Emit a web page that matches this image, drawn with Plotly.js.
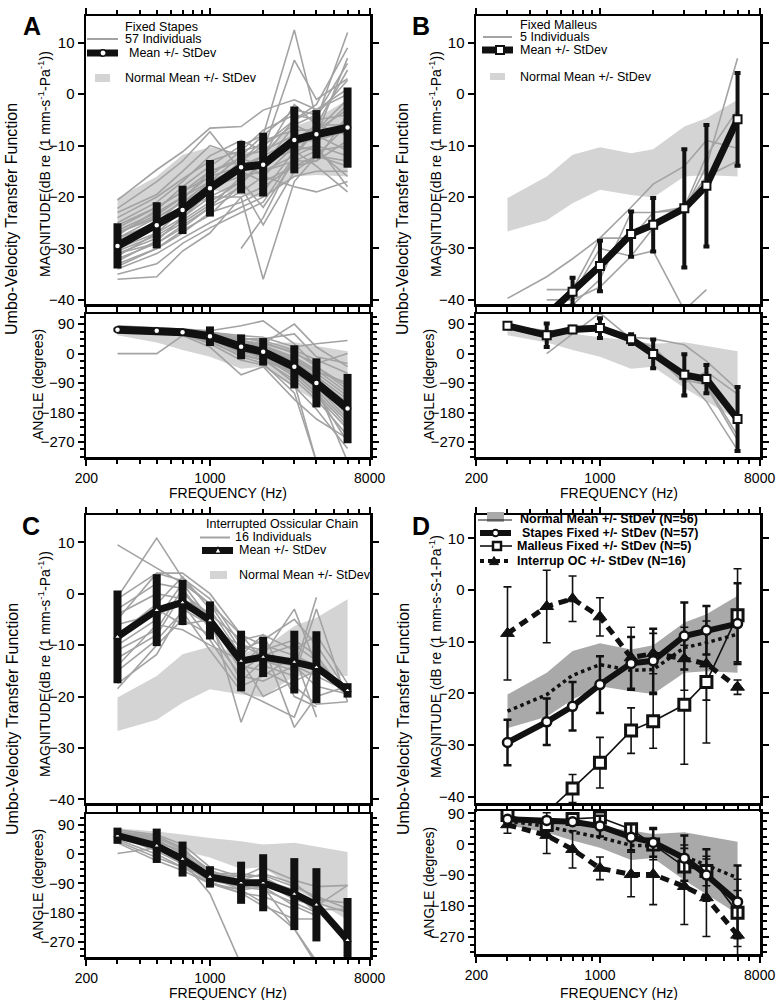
<!DOCTYPE html>
<html><head><meta charset="utf-8">
<script src="https://cdn.plot.ly/plotly-3.0.1.min.js"></script>
<style>html,body{margin:0;padding:0;background:#fff}#chart{width:781px;height:1000px}</style>
</head><body><div id="chart"></div>
<script>
// ---------- DATA ----------
const freqs = [300, 500, 700, 1000, 1500, 2000, 3000, 4000, 6000];
const xTickVals = [200, 1000, 8000];
const xTickLabels = ['200', '1000', '8000'];
const xMinorVals = [300, 400, 500, 600, 700, 800, 900, 2000, 3000, 4000, 5000, 6000, 7000];
const magTickVals = [-40, -30, -20, -10, 0, 10];
const angTickVals = [-270, -180, -90, 0, 90];

// Normal ears
const normMagMean = [-23.45, -20.25, -16.5, -14.45, -15.55, -15.4, -11.15, -10.2, -8.55];
const normMagSd   = [3.25, 4.25, 4.7, 4.15, 4.05, 4.7, 4.85, 5.5, 7.45];
const normAngMean = [68, 52, 36, 20, -3, -5, -35, -62, -98];
const normAngSd   = [12, 18, 25, 30, 43, 35, 70, 85, 105];

// Fixed stapes (N=57)
const stapesMagMean = [-29.5, -25.5, -22.5, -18.3, -14.2, -13.7, -8.9, -7.8, -6.5];
const stapesMagSd   = [4.4, 4.5, 4.7, 5.5, 5.1, 6.2, 6.5, 4.7, 7.8];
const stapesAngMean = [73, 69.5, 65.5, 53, 20.7, 5.4, -40.5, -89.5, -168];
const stapesAngSd   = [6, 6, 8, 30, 38, 42, 66, 75, 106];

// Fixed malleus (N=5)
const malleusMagMean = [null, -43, -38.4, -33.4, -27.2, -25.4, -22.2, -17.8, -4.9];
const malleusMagSd   = [null, null, 2.7, 4.9, 4.4, 5.2, 11.5, 11.8, 9];
const malleusAngMean = [85, 56, 74, 78, 44, -1, -65, -78, -200];
const malleusAngSd   = [5, 36, 8, 30, 15, 44, 63, 43, 98];

// Interrupted ossicular chain (N=16)
const interrMagMean = [-8.4, -3.2, -1.7, -5.2, -13.1, -12.3, -13.3, -14.3, -18.8];
const interrMagSd   = [9, 7, 4.4, 3.7, 5.9, 3.9, 6.1, 7, 1.4];
const interrAngMean = [57, 26, -15, -70, -88, -88, -123, -156, -265];
const interrAngSd   = [25, 53, 54, 33, 65, 88, 111, 113, 130];

// Individual ears
const stapesIndivMag = [
 [-20.6,-14.7,-11.2,-6.6,-6.3,-3.1,-1.1,-3,1],
 [-22.2,-17,-13,-7.3,-15,-12,-5,-2,9],
 [-23,-19.5,-15,-10,-12,-8,12.5,-5,-4],
 [-25,-21,-17,-12,-9,-11,6.6,-1,3],
 [-26,-22,-19,-15,-13,-16,-10,-8,-2],
 [-27,-23.5,-20,-16,-11,-7,-4,-5,12],
 [-28,-24,-21,-17,-14,-13,-9,-9,-7],
 [-28.5,-25,-22,-18,-16,-15,-12,-10,-12],
 [-29,-26,-23,-19,-15,-14,-6,-8,7],
 [-30,-27,-24,-20,-20,-36,-17,-12,-14],
 [-30.5,-27.5,-24.5,-21,-17,-22,-13,-11,-10],
 [-31,-28,-25,-21.5,-18,-25.4,-15,-12,-6],
 [-32,-29,-26,-22,-19,-16,-18,-19,-17],
 [-33,-30,-27,-23,-21,-19,-11,-14,-19],
 [-34,-31,-28,-25,-22,-20,-16,-15,-15],
 [-36,-35.5,-30.5,-27,-20,-18,-14,-13,-9],
 [-35,-33,-29,-26,-23,-21,-12,-6,4.7],
 [-32.5,-28.5,-24,-19,-13,-9,-7,-7,-3],
 [-27.5,-22.5,-18,-14,-10,-8,-3,-4,2.7],
 [-31.5,-27,-22.5,-17,-12,-11,-8,-8,-11],
 [-29.5,-25,-20.5,-15,-12.5,-14,-10,-11,-16],
 [null,null,null,null,-30,-24,-12,-7,-1],
 [-24,-20,-16.5,-13,-11,-10,-5,-3,0],
 [-26.5,-23,-20,-17,-15,-17,-14,-12,-13],
 [-33.5,-30,-26.5,-23.5,-17.5,-13,-9,-9,-5],
 [-30,-26,-22,-18,-14,-12,-2,-6,-8],
 [-28,-25,-22.5,-20,-17,-13,-11,-10,-18],
 [-31,-29,-25.5,-22,-16,-15,-13,-13,-4],
 [-27,-24,-21,-18,-13,-10,-6,-4,6],
 [-25.5,-22,-19,-16,-14,-12,-9,-6,-6]
];
const stapesIndivAng = [
 [0,0,55,40,20,10,-30,-80,-150],
 [85,80,75,70,85,100,30,-40,-100],
 [80,78,72,60,40,30,90,20,-40],
 [75,72,68,50,10,-10,-60,-100,-200],
 [72,70,65,55,30,20,-20,-60,-130],
 [70,68,62,45,0,-20,-80,-140,-250],
 [68,65,60,40,-10,-30,-120,-330,null],
 [78,75,70,65,55,50,20,30,40],
 [74,72,66,50,25,10,-40,-100,-180],
 [76,74,70,60,35,25,-10,-50,-120],
 [70,66,60,30,-20,-35,-100,-170,-290],
 [72,70,65,50,15,0,-50,-110,-210],
 [80,76,70,58,30,15,-30,-75,-160],
 [66,62,55,20,-65,-40,-140,-200,-260],
 [73,70,66,55,20,5,-45,-90,-170],
 [75,73,68,60,45,40,10,-20,-60],
 [70,67,62,50,10,-15,-90,-330,null],
 [82,78,73,65,50,35,0,-30,0],
 [71,68,64,45,5,-10,-70,-130,-230],
 [74,71,67,52,25,10,-35,-85,-190],
 [77,73,68,60,35,20,-25,-70,-140],
 [69,66,60,35,-5,-20,-60,-120,-220],
 [76,74,70,62,40,30,5,-40,-110],
 [73,70,65,50,20,0,-60,-120,-270],
 [79,75,71,63,45,45,60,-10,-30],
 [72,69,64,48,18,5,-50,-95,-175],
 [75,72,67,56,28,15,-30,-80,-150],
 [71,69,63,47,12,-5,-40,-100,-330],
 [78,74,69,58,38,25,-15,-55,-90],
 [74,71,66,54,22,8,-42,-92,-175]
];
const malleusIndivMag = [
 [-39.7,-35.5,-32,-28,-22,-17.5,-14,-9,-10.5],
 [null,-38,-38,-28,-28,-23,-22,-12,-3],
 [null,-40,-40,-37.5,-31.5,-30.5,-42,-38,null],
 [null,null,-41,-36,-23,-23,-22.5,-14,7],
 [null,null,-39,-30,-31.5,-26,-22,-16,-13]
];
const malleusIndivAng = [
 [85,70,72,75,50,45,27,-23,-110],
 [null,0,60,124,45,10,-60,-100,-264],
 [85,68,75,78,45,20,-70,-146,-295],
 [83,60,78,82,40,0,-90,-55,-124],
 [80,55,72,72,35,-10,-80,-95,-250]
];
const interrIndivMag = [
 [9.5,5,2,-2,-8,-10,-12,-14,null],
 [-0.7,10.8,3,-1,-10,-12,-3,-14,-20],
 [-5,4,4,0,-8,-13,-15,-0.7,null],
 [-8,-2,3.3,-3,-12,-8,-20,-22,null],
 [-10,-5,2,-5,-15,-12,-10,-13,-19],
 [-12.5,-8,0,-4,-25,-14,-16,-3,-21],
 [-17.5,-11.8,-3,-6,-14,-10,-26,-20,-18],
 [-18.5,-10,-5,-8,-16,-17,-14,-18,-19.5],
 [-3,2,1,-7,-10,-11,-9,-12,-20],
 [-6,-4,-2,-9,-18,-16,-12,-24,null],
 [-14,-6,-7,-10,-13,-20,-17,-15,-18.5],
 [-1,4,2.5,-2,-11,-9,-5,-10,-19],
 [-9,-3,-6,-5,-14,-15,-18,-21.5,-21],
 [-4,0,-1,-4,-9,-8,-11,-8,-17.5],
 [-11,-7,1,-6,-17,-13,-14,-16,-19],
 [-15,-9,-3.5,-11,-19,-21,-24,-13,null]
];
const interrIndivAng = [
 [65,40,10,-50,-90,-85,-140,-160,-96],
 [40,-10,-40,-70,-110,-150,-230,-330,null],
 [70,55,20,-60,-70,-65,-100,-130,-168],
 [2,20,-20,-122,-340,null,null,null,null],
 [60,40,5,-60,-60,-70,-120,-180,null],
 [55,10,-30,-80,-100,-90,-130,-170,-170],
 [45,0,-40,-90,-110,-100,-230,-340,null],
 [75,60,30,-40,-70,-40,-80,-100,-96],
 [65,30,-10,-70,-100,-110,-150,-180,null],
 [50,20,-30,-85,-120,-160,-200,-200,null],
 [70,50,15,-50,-80,-60,-90,-140,-150],
 [60,25,-20,-75,-95,-100,-160,-190,null],
 [35,-20,-50,-90,-120,-130,-170,null,null],
 [68,45,0,-65,-85,-80,-110,-150,-180]
];

// ---------- DRAWING ----------
const F = '"Liberation Sans", Arial, Helvetica, sans-serif';
const W = 781, H = 1000;
const px = x => x / W, py = y => 1 - y / H;
const BLK = '#111111', GRAYLINE = '#a3a3a3', BAND = '#d4d4d4', BAND_D = '#a9a9a9';
const traces = [];

function band(mean, sd, xa, ya, color) {
  const up = mean.map((m, i) => m + sd[i]);
  const lo = mean.map((m, i) => m - sd[i]);
  traces.push({x: freqs.concat(freqs.slice().reverse()), y: up.concat(lo.slice().reverse()),
    xaxis: xa, yaxis: ya, type: 'scatter', mode: 'lines', fill: 'toself', fillcolor: color,
    line: {width: 0, color: color}, hoverinfo: 'skip', showlegend: false});
}
function indiv(lines, xa, ya) {
  lines.forEach(l => traces.push({x: freqs, y: l, xaxis: xa, yaxis: ya, type: 'scatter', mode: 'lines',
    line: {color: GRAYLINE, width: 1.6}, hoverinfo: 'skip', showlegend: false}));
}
function meanTrace(mean, sd, xa, ya, o) {
  traces.push({x: freqs, y: mean, xaxis: xa, yaxis: ya, type: 'scatter', mode: 'lines+markers',
    line: {color: BLK, width: o.lw, dash: o.dash || 'solid'},
    marker: {symbol: o.sym, size: o.ms, color: o.mc || '#fff', line: {color: BLK, width: o.mlw}},
    error_y: {type: 'data', array: sd, visible: true, color: BLK, thickness: o.et, width: o.ew},
    hoverinfo: 'skip', showlegend: false});
}
function lineOnly(vals, xa, ya, o) {
  traces.push({x: freqs, y: vals, xaxis: xa, yaxis: ya, type: 'scatter', mode: 'lines',
    line: {color: BLK, width: o.lw, dash: o.dash}, hoverinfo: 'skip', showlegend: false});
}

// Panel A
band(normMagMean, normMagSd, 'x', 'y', BAND);
indiv(stapesIndivMag, 'x', 'y');
meanTrace(stapesMagMean, stapesMagSd, 'x', 'y', {lw: 8, sym: 'circle', ms: 6, mlw: 1.5, et: 8, ew: 0});
band(normAngMean, normAngSd, 'x2', 'y2', BAND);
indiv(stapesIndivAng, 'x2', 'y2');
meanTrace(stapesAngMean, stapesAngSd, 'x2', 'y2', {lw: 8, sym: 'circle', ms: 6, mlw: 1.5, et: 8, ew: 0});
// Panel B
band(normMagMean, normMagSd, 'x3', 'y3', BAND);
indiv(malleusIndivMag, 'x3', 'y3');
meanTrace(malleusMagMean, malleusMagSd, 'x3', 'y3', {lw: 7, sym: 'square', ms: 8, mlw: 2, et: 4, ew: 3});
band(normAngMean, normAngSd, 'x4', 'y4', BAND);
indiv(malleusIndivAng, 'x4', 'y4');
meanTrace(malleusAngMean, malleusAngSd, 'x4', 'y4', {lw: 7, sym: 'square', ms: 8, mlw: 2, et: 4, ew: 3});
// Panel C
band(normMagMean, normMagSd, 'x5', 'y5', BAND);
indiv(interrIndivMag, 'x5', 'y5');
meanTrace(interrMagMean, interrMagSd, 'x5', 'y5', {lw: 7, sym: 'triangle-up', ms: 6, mlw: 1.5, et: 8, ew: 0});
band(normAngMean, normAngSd, 'x6', 'y6', BAND);
indiv(interrIndivAng, 'x6', 'y6');
meanTrace(interrAngMean, interrAngSd, 'x6', 'y6', {lw: 7, sym: 'triangle-up', ms: 6, mlw: 1.5, et: 8, ew: 0});
// Panel D
[['x7', 'y7', normMagMean, normMagSd, stapesMagMean, stapesMagSd, malleusMagMean, malleusMagSd, interrMagMean, interrMagSd],
 ['x8', 'y8', normAngMean, normAngSd, stapesAngMean, stapesAngSd, malleusAngMean, malleusAngSd, interrAngMean, interrAngSd]]
.forEach(([xa, ya, nm, ns, sm, ss, mm, ms, im, is]) => {
  band(nm, ns, xa, ya, BAND_D);
  lineOnly(nm, xa, ya, {lw: 3.5, dash: 'dot'});
  meanTrace(im, is, xa, ya, {lw: 5, dash: '9px,6px', sym: 'triangle-up', ms: 12, mc: BLK, mlw: 1, et: 1.6, ew: 4});
  meanTrace(mm, ms, xa, ya, {lw: 1.6, sym: 'square', ms: 11, mlw: 3, et: 1.6, ew: 4});
  meanTrace(sm, ss, xa, ya, {lw: 6, sym: 'circle', ms: 9, mlw: 2.5, et: 2.5, ew: 4});
});

// ---------- AXES ----------
const xDomL = [px(86), px(370)], xDomR = [px(476), px(760)];
function xAxis(domain, anchor, showLabels) {
  return {type: 'log', range: [Math.log10(200) - 0.002, Math.log10(8000) + 0.002], domain, anchor,
    tickmode: 'array', tickvals: xTickVals, ticktext: xTickLabels, showticklabels: showLabels,
    ticks: 'outside', ticklen: 6, tickwidth: 2, tickcolor: '#000', ticklabelstandoff: 1,
    minor: {tickmode: 'array', tickvals: xMinorVals, ticks: 'outside', ticklen: 4, tickwidth: 2, tickcolor: '#000', showgrid: false},
    showline: true, linewidth: 2.5, linecolor: '#000', mirror: 'ticks', showgrid: false, zeroline: false,
    tickfont: {family: F, size: 14, color: '#000'}, fixedrange: true};
}
function yMag(domain, anchor, range) {
  return {domain, anchor, range, tickmode: 'array', tickvals: magTickVals,
    ticks: 'outside', ticklen: 6, tickwidth: 2, tickcolor: '#000',
    showline: true, linewidth: 2.5, linecolor: '#000', mirror: 'ticks', showgrid: false, zeroline: false,
    tickfont: {family: F, size: 15, color: '#000'}, fixedrange: true};
}
function yAng(domain, anchor, range) {
  return {domain, anchor, range, tickmode: 'array', tickvals: angTickVals,
    ticks: 'outside', ticklen: 6, tickwidth: 2, tickcolor: '#000',
    minor: {dtick: 22.5, tick0: 0, ticks: 'outside', ticklen: 4, tickwidth: 2, tickcolor: '#000', showgrid: false},
    showline: true, linewidth: 2.5, linecolor: '#000', mirror: 'ticks', showgrid: false, zeroline: false,
    tickfont: {family: F, size: 15, color: '#000'}, fixedrange: true};
}
const dMagTop = [py(304), py(16)], dAngTop = [py(457), py(314)];
const dMagBot = [py(803), py(515)], dAngBotC = [py(957), py(814)], dAngBotD = [py(954), py(811)];

// ---------- ANNOTATIONS / LEGENDS ----------
const ann = [];
function T(text, x, y, o = {}) {
  ann.push({text, x: px(x), y: py(y), xref: 'paper', yref: 'paper', showarrow: false,
    xanchor: o.xa || 'left', yanchor: 'middle', textangle: o.ang || 0,
    font: {family: F, size: o.size || 12.5, color: '#000'}});
}
const shapes = [];
function L(x0, x1, y, w, color, dash) {
  shapes.push({type: 'line', xref: 'paper', yref: 'paper', x0: px(x0), x1: px(x1), y0: py(y), y1: py(y),
    line: {color: color || BLK, width: w, dash: dash || 'solid'}});
}
function R(x0, x1, y0, y1, fill, lw) {
  shapes.push({type: 'rect', xref: 'paper', yref: 'paper', x0: px(x0), x1: px(x1), y0: py(y1), y1: py(y0),
    fillcolor: fill, line: {color: lw ? BLK : fill, width: lw || 0}});
}
function C(x, y, r, lw) {
  shapes.push({type: 'circle', xref: 'paper', yref: 'paper', x0: px(x - r), x1: px(x + r), y0: py(y + r), y1: py(y - r),
    fillcolor: '#fff', line: {color: BLK, width: lw}});
}
function Tri(x, y, s, fill, lw) {
  const p = `M${px(x - s)},${py(y + s * 0.8)} L${px(x + s)},${py(y + s * 0.8)} L${px(x)},${py(y - s)} Z`;
  shapes.push({type: 'path', xref: 'paper', yref: 'paper', path: p, fillcolor: fill, line: {color: BLK, width: lw}});
}

// Panel letters
T('<b>A</b>', 32, 26, {xa: 'center', size: 25});
T('<b>B</b>', 421, 26, {xa: 'center', size: 25});
T('<b>C</b>', 31, 526, {xa: 'center', size: 25});
T('<b>D</b>', 421, 526, {xa: 'center', size: 25});

// Axis titles
[[0, 0], [391, 0], [0, 500], [391, 500]].forEach(([dx, dy], k) => {
  T('Umbo-Velocity Transfer Function', 12 + dx, 219 + dy, {xa: 'center', ang: -90, size: 16});
  const magTxt = k === 3 ? 'MAGNITUDE (dB re (1 mm-s-S-1-Pa<sup>-1</sup>)' : 'MAGNITUDE(dB re (1 mm-s<sup>-1</sup>-Pa<sup>-1</sup>))';
  T(magTxt, 44 + dx, (k === 3 ? 657 : 164 + dy), {xa: 'center', ang: -90, size: 14});
  T('ANGLE (degrees)', 38 + dx, (k === 3 ? 883 : 385 + dy), {xa: 'center', ang: -90, size: 14});
  T('FREQUENCY (Hz)', 228 + dx, 493 + dy, {xa: 'center', size: 14});
});

// Legend A
T('Fixed Stapes', 123, 27);
L(87, 118, 39, 2, GRAYLINE); T('57 Individuals', 123, 39);
L(87, 118, 53, 7); C(103, 53, 3.2, 1.5); T('Mean +/- StDev', 127, 53);
R(95, 110, 74, 82, BAND); T('Normal Mean +/- StDev', 123, 78);
// Legend B
T('Fixed Malleus', 518, 25);
L(483, 512, 37, 2, GRAYLINE); T('5 Individuals', 518, 37);
L(482, 513, 50, 7); R(496, 504, 46, 54, '#fff', 2); T('Mean +/- StDev', 518, 50);
R(490, 505, 73, 80, BAND); T('Normal Mean +/- StDev', 518, 77);
// Legend C
T('Interrupted Ossicular Chain', 204, 524);
L(200, 230, 537.5, 2, GRAYLINE); T('16 Individuals', 233, 537);
L(202, 233, 550.5, 7); Tri(218, 550.5, 3.2, '#fff', 1.2); T('Mean +/- StDev', 237, 550);
R(210, 227, 571, 579, BAND); T('Normal Mean +/- StDev', 237, 575);
// Legend D
R(487, 504, 512, 522, BAND_D); L(478, 512, 520, 1);
T('<b>Normal Mean +/- StDev (N=56)</b>', 518, 519, {size: 12.5});
L(480, 511, 533, 6); C(495.5, 533, 3.3, 2);
T('<b>Stapes Fixed +/- StDev (N=57)</b>', 520, 533, {size: 12.5});
L(480, 512, 546, 1.6); R(493, 501, 542, 550, '#fff', 2.5);
T('<b>Malleus Fixed +/- StDev (N=5)</b>', 515, 546, {size: 12.5});
L(480, 510, 561, 4, BLK, 'dot'); Tri(494, 561, 4.5, BLK, 1);
T('<b>Interrup OC +/- StDev (N=16)</b>', 515, 561, {size: 12.5});

const layout = {
  width: W, height: H, margin: {l: 0, r: 0, t: 0, b: 0},
  paper_bgcolor: '#fff', plot_bgcolor: '#fff', showlegend: false,
  font: {family: F, color: '#000'},
  xaxis: xAxis(xDomL, 'y', false), yaxis: yMag(dMagTop, 'x', [-40.8, 15.2]),
  xaxis2: xAxis(xDomL, 'y2', true), yaxis2: yAng(dAngTop, 'x2', [-316, 121]),
  xaxis3: xAxis(xDomR, 'y3', false), yaxis3: yMag(dMagTop, 'x3', [-40.8, 15.2]),
  xaxis4: xAxis(xDomR, 'y4', true), yaxis4: yAng(dAngTop, 'x4', [-316, 121]),
  xaxis5: xAxis(xDomL, 'y5', false), yaxis5: yMag(dMagBot, 'x5', [-40.7, 15.3]),
  xaxis6: xAxis(xDomL, 'y6', true), yaxis6: yAng(dAngBotC, 'x6', [-317, 124]),
  xaxis7: xAxis(xDomR, 'y7', false), yaxis7: yMag(dMagBot, 'x7', [-41.2, 14.5]),
  xaxis8: xAxis(xDomR, 'y8', true), yaxis8: yAng(dAngBotD, 'x8', [-320, 97]),
  annotations: ann, shapes: shapes
};
Plotly.newPlot('chart', traces, layout, {displayModeBar: false, staticPlot: true});
</script></body></html>
